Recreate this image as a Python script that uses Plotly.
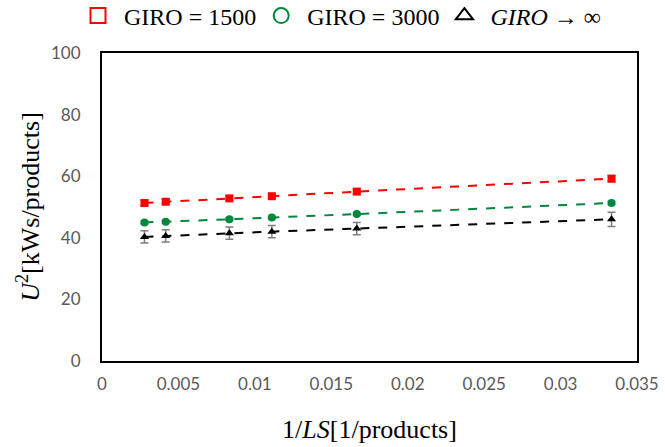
import plotly.graph_objects as go

x_vals = [1/360, 1/240, 1/120, 1/90, 1/60, 1/30]
giro1500 = [51.3, 51.7, 52.8, 53.5, 55.0, 59.2]
giro3000 = [45.0, 45.2, 46.0, 46.6, 47.7, 51.3]
giro_inf = [40.3, 40.6, 41.5, 42.0, 43.0, 46.0]
err1500 = [0.8, 0.8, 0.8, 0.8, 0.8, 1.0]
err3000 = [0.4, 0.4, 0.4, 0.4, 0.4, 0.5]
err_inf = [2.0, 2.0, 2.0, 2.0, 2.0, 2.3]

series = [
    ("\u00a0GIRO = 1500", giro1500, err1500, "#ff0000", "square"),
    ("\u00a0GIRO = 3000", giro3000, err3000, "#00873e", "circle"),
    ("\u00a0<i>GIRO</i> → ∞", giro_inf, err_inf, "#000000", "triangle-up"),
]

fig = go.Figure()
for name, ys, es, col, sym in series:
    fig.add_trace(go.Scatter(
        x=x_vals, y=ys, mode="lines+markers", showlegend=False,
        line=dict(color=col, width=2, dash="dash"),
        marker=dict(color=col, symbol=sym, size=8),
        error_y=dict(type="data", array=es, color="#7f7f7f", thickness=1.5, width=4),
    ))
    fig.add_trace(go.Scatter(
        x=[None], y=[None], mode="markers", name=name,
        marker=dict(color="rgba(0,0,0,0)", symbol=sym, size=15,
                    line=dict(color=col, width=2)),
    ))

serif = "Liberation Serif"
tickfont = dict(family="Lato", size=17, color="#595959")
fig.update_layout(
    width=665, height=447,
    margin=dict(l=102, r=28, t=53, b=86, autoexpand=False),
    plot_bgcolor="white", paper_bgcolor="white",
    legend=dict(orientation="h", x=78/665, xanchor="left", xref="container",
                y=1 - 16/447, yanchor="middle", yref="container",
                font=dict(family=serif, size=24, color="black"), itemwidth=30),
    xaxis=dict(range=[0, 0.035], dtick=0.005, tickformat="~g", showgrid=False,
               showline=True, mirror=True, linecolor="black", linewidth=2,
               ticks="", ticklabelstandoff=7, tickfont=tickfont,
               title=dict(text="1/<i>LS</i>[1/products]",
                          font=dict(family=serif, size=26, color="black"), standoff=26)),
    yaxis=dict(range=[0, 100], dtick=20, showgrid=False,
               showline=True, mirror=True, linecolor="black", linewidth=2,
               ticks="", ticklabelstandoff=16, tickfont=tickfont,
               title=dict(text="<i>U</i><sup>2</sup>[kWs/products]",
                          font=dict(family=serif, size=26, color="black"), standoff=4)),
)
fig.write_html("out.html", config={"displayModeBar": False},
               post_script="document.body.style.margin='0';")
with open("out.html", encoding="utf-8") as f:
    html = f.read()
html = html.replace("<body>", '<body style="margin:0">', 1)
with open("out.html", "w", encoding="utf-8") as f:
    f.write(html)
